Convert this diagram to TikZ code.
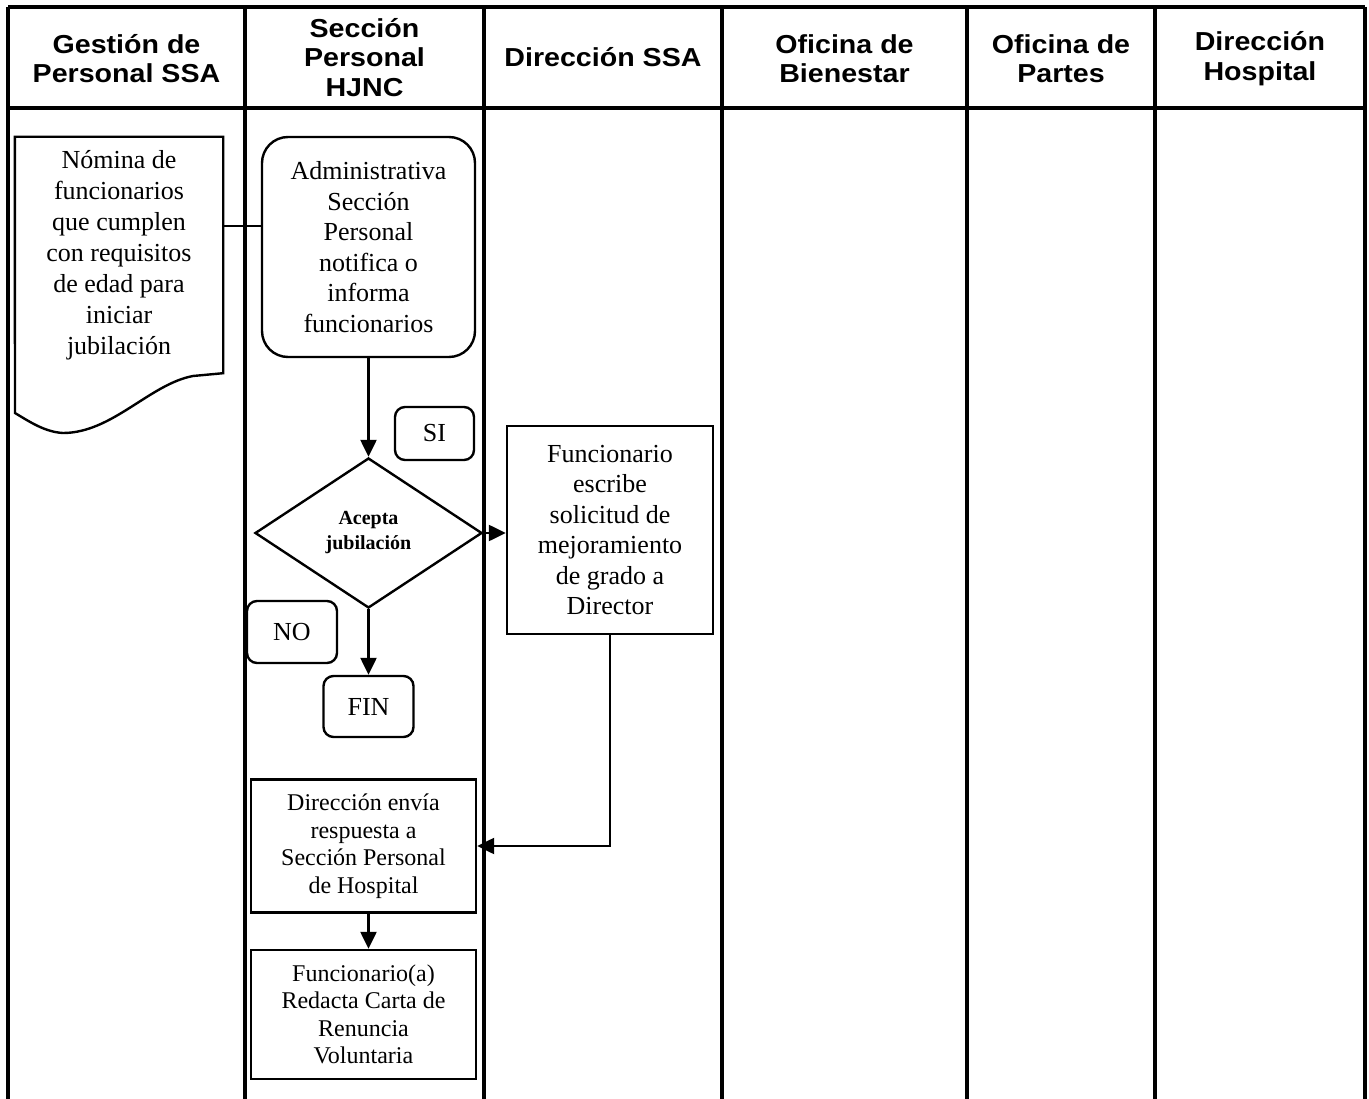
\documentclass[tikz,border=0pt]{standalone}
\usepackage{fontspec}
\setmainfont{Liberation Serif}
\newfontfamily\headfont[FakeStretch=1.1]{Liberation Sans}
\usetikzlibrary{shapes.geometric, arrows.meta}
\tikzstyle{lane} = [line width=3.2pt]
\tikzstyle{lanehead} = [align=center,
	font=\headfont\bfseries\fontsize{26}{29.5}\selectfont
	]
\tikzstyle{docu} = [rectangle,
	minimum width=208pt,
	minimum height=236pt,
	align=center,
	font=\fontsize{26}{31}\selectfont
	]
\tikzstyle{notice} = [rectangle,
	rounded corners=26pt,
	minimum width=213pt,
	minimum height=220pt,
	align=center,
	draw=black,
	line width=2.4pt,
	font=\fontsize{26}{30.5}\selectfont
	]
\tikzstyle{choice} = [diamond,
	minimum width=227pt,
	minimum height=150pt,
	inner sep=0pt,
	align=center,
	draw=black,
	line width=2.4pt,
	font=\bfseries\fontsize{20}{25}\selectfont
	]
\tikzstyle{answer} = [rectangle,
	rounded corners=10pt,
	align=center,
	draw=black,
	line width=2.4pt,
	font=\fontsize{26}{30}\selectfont
	]
\tikzstyle{task} = [rectangle,
	align=center,
	draw=black,
	line width=2.4pt
	]
\tikzstyle{line} = [line width=2.4pt]
\tikzstyle{arrow} = [line width=2.4pt,-{Triangle[length=17pt,width=16pt]}]

\begin{document}
\begin{tikzpicture}[x=1pt, y=-1pt]
\useasboundingbox (0,0) rectangle (1369,1099);

% swimlanes
\draw [lane] (8,7) -- (1365,7);
\draw [lane] (8,108) -- (1365,108);
\draw [lane] (8,7) -- (8,1099);
\draw [lane] (245,7) -- (245,1099);
\draw [lane] (484,7) -- (484,1099);
\draw [lane] (722,7) -- (722,1099);
\draw [lane] (967,7) -- (967,1099);
\draw [lane] (1155,7) -- (1155,1099);
\draw [lane] (1365,7) -- (1365,1099);

\node (hGP) [lanehead] at (126.5,58.5) {Gestión de\\Personal SSA};
\node (hSP) [lanehead] at (364.5,57.5) {Sección\\Personal\\HJNC};
\node (hDS) [lanehead] at (603,57.5) {Dirección SSA};
\node (hOB) [lanehead] at (844.5,58.5) {Oficina de\\Bienestar};
\node (hOP) [lanehead] at (1061,58.5) {Oficina de\\Partes};
\node (hDH) [lanehead] at (1260,58.5) {Dirección\\Hospital};

% nodes
\node (nomina) [docu] at (119,255) {Nómina de\\funcionarios\\que cumplen\\con requisitos\\de edad para\\iniciar\\jubilación};
\draw [line] (nomina.north west) -- (nomina.north east) -- (nomina.south east)
	-- (193,376) .. controls (150,384) and (112,433) .. (63,433)
	.. controls (45,432) and (30,422) .. (15,413) -- cycle;

\node (admin) [notice] at (368.5,247) {Administrativa\\Sección\\Personal\\notifica o\\informa\\funcionarios};
\node (acepta) [choice] at (368.5,533) {Acepta\\jubilación};
\node (si) [answer, minimum width=79pt, minimum height=53pt] at (434.5,433.5) {SI};
\node (no) [answer, minimum width=90pt, minimum height=62pt] at (292,632) {NO};
\node (fin) [answer, minimum width=90pt, minimum height=61pt] at (368.5,706.5) {FIN};

\node (solicitud) [task, minimum width=206pt, minimum height=208pt,
	font=\fontsize{26}{30.5}\selectfont] at (610,530)
	{Funcionario\\escribe\\solicitud de\\mejoramiento\\de grado a\\Director};
\node (respuesta) [task, minimum width=225pt, minimum height=133pt,
	font=\fontsize{24}{27.5}\selectfont] at (363.5,846)
	{Dirección envía\\respuesta a\\Sección Personal\\de Hospital};
\node (carta) [task, minimum width=225pt, minimum height=129pt,
	font=\fontsize{24}{27.5}\selectfont] at (363.5,1014.5)
	{Funcionario(a)\\Redacta Carta de\\Renuncia\\Voluntaria};

% connectors
\coordinate (link) at (0,226);
\draw [line] (nomina.east |- link) -- (admin.west |- link);
\draw [arrow] (admin.south) -- (acepta.north);
\draw [arrow] (acepta.east) -- (acepta.east -| solicitud.west);
\draw [arrow] (acepta.south) -- (fin.north);
\draw [arrow] (solicitud.south) |- (respuesta.east);
\draw [arrow] (respuesta.south -| fin) -- (carta.north -| fin);

\end{tikzpicture}
\end{document}
